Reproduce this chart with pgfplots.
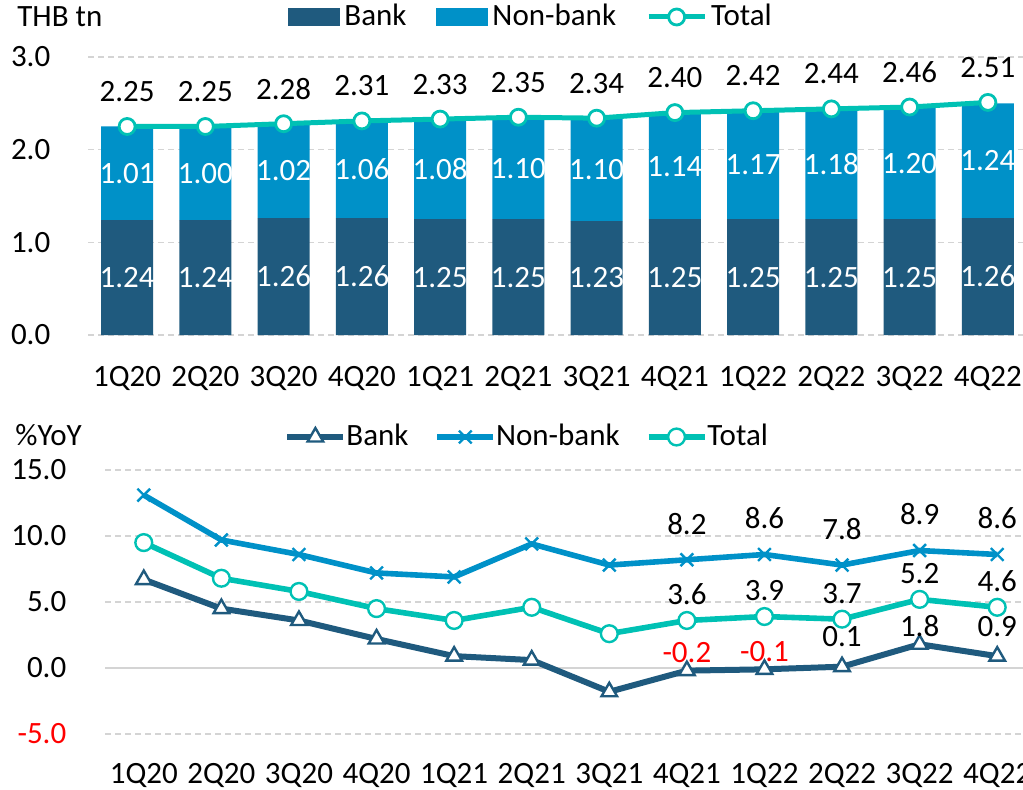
\documentclass[border=0pt]{standalone}
\usepackage{pgfplots}
\pgfplotsset{compat=1.18}
\usepackage{fontspec}
\setmainfont{Carlito}
\definecolor{bankc}{RGB}{31,90,126}
\definecolor{nbc}{RGB}{0,145,200}
\definecolor{totc}{RGB}{0,193,180}
\definecolor{gridc}{RGB}{212,212,212}
\newcommand{\fs}{\fontsize{15.5}{18}\selectfont}
\pgfplotsset{
  /pgf/number format/assume math mode=true,
  base/.style={
    anchor=south west, scale only axis,
    xmin=-0.5, xmax=11.5, enlargelimits=false, clip=false,
    axis line style={draw=none}, major tick length=0pt,
    xtick={0,...,11},
    xticklabels={1Q20,2Q20,3Q20,4Q20,1Q21,2Q21,3Q21,4Q21,1Q22,2Q22,3Q22,4Q22},
    tick label style={font=\fs, black},
    major grid style={gridc, dash pattern=on 3pt off 2pt, line width=0.7pt},
    legend style={draw=none, fill=none, font=\fs, legend columns=-1, inner sep=0pt,
      nodes={inner sep=0pt},
      /tikz/every even column/.append style={column sep=15pt}},
  },
  barleg/.style={legend image code/.code={\fill[##1] (0pt,-4.5pt) rectangle (26pt,4.5pt);}},
  lineleg/.style={legend image code/.code={\draw[##1, mark=none] (0pt,0pt) -- (28pt,0pt);\draw[##1] plot coordinates {(14pt,0pt)};}},
}
\begin{document}
\fs
\begin{tikzpicture}
\useasboundingbox (0,0) rectangle (511.5pt,394.5pt);
\clip (0,0) rectangle (511.5pt,394.5pt);
\node[anchor=west, font=\fs, inner sep=0pt] at (8.5pt,386pt) {THB tn};
\node[anchor=west, font=\fs, inner sep=0pt] at (7.5pt,177pt) {\%YoY};

% ---------- top: stacked bars ----------
\begin{axis}[base, at={(44pt,227pt)}, width=469.5pt, height=139pt,
  ymin=0, ymax=3, ybar stacked, bar width=26pt,
  ytick={0,1,2,3}, yticklabels={0.0,1.0,2.0,3.0},
  yticklabel style={xshift=-13.5pt}, xticklabel style={yshift=-10.2pt},
  ymajorgrids,
  legend style={at={(axis description cs:0,1)}, anchor=west, xshift=100pt, yshift=20pt,
    /tikz/every odd column/.append style={column sep=2pt}},
]
\addplot[fill=bankc, draw=none, barleg] coordinates {(0,1.24) (1,1.24) (2,1.26) (3,1.26) (4,1.25) (5,1.25) (6,1.23) (7,1.25) (8,1.25) (9,1.25) (10,1.25) (11,1.26)};
\addlegendentry{Bank}
\addplot[fill=nbc, draw=none, barleg] coordinates {(0,1.01) (1,1.00) (2,1.02) (3,1.06) (4,1.08) (5,1.10) (6,1.10) (7,1.14) (8,1.17) (9,1.18) (10,1.20) (11,1.24)};
\addlegendentry{Non-bank}
\addlegendimage{lineleg, totc, line width=2.5pt, mark=*, mark size=4pt, mark options={fill=white, draw=totc, line width=1.4pt}}
\addlegendentry{Total}
\end{axis}
\begin{axis}[base, at={(44pt,227pt)}, width=469.5pt, height=139pt,
  ymin=0, ymax=3, hide axis]
\addplot[draw=none, mark=none, nodes near coords, point meta=explicit symbolic,
  nodes near coords style={anchor=center, white, font=\fs}]
  coordinates {(0,0.62)[1.24] (1,0.62)[1.24] (2,0.63)[1.26] (3,0.63)[1.26] (4,0.625)[1.25] (5,0.625)[1.25] (6,0.615)[1.23] (7,0.625)[1.25] (8,0.625)[1.25] (9,0.625)[1.25] (10,0.625)[1.25] (11,0.63)[1.26]};
\addplot[draw=none, mark=none, nodes near coords, point meta=explicit symbolic,
  nodes near coords style={anchor=center, white, font=\fs}]
  coordinates {(0,1.745)[1.01] (1,1.74)[1.00] (2,1.77)[1.02] (3,1.79)[1.06] (4,1.79)[1.08] (5,1.80)[1.10] (6,1.78)[1.10] (7,1.82)[1.14] (8,1.835)[1.17] (9,1.84)[1.18] (10,1.85)[1.20] (11,1.88)[1.24]};
\addplot[totc, line width=2.5pt, mark=*, mark size=4pt, mark options={fill=white, draw=totc, line width=1.4pt},
  nodes near coords, point meta=y,
  nodes near coords style={anchor=center, yshift=17.5pt, black, font=\fs, /pgf/number format/.cd, fixed, fixed zerofill, precision=2}]
  coordinates {(0,2.25) (1,2.25) (2,2.28) (3,2.31) (4,2.33) (5,2.35) (6,2.34) (7,2.40) (8,2.42) (9,2.44) (10,2.46) (11,2.51)};
\end{axis}

% ---------- bottom: YoY lines ----------
\begin{axis}[base, at={(52.5pt,27.5pt)}, width=465.5pt, height=132pt,
  ymin=-5, ymax=15,
  ytick={-5,0,5,10,15}, yticklabels={\textcolor{red}{-5.0},0.0,5.0,10.0,15.0},
  yticklabel style={xshift=-14pt}, xticklabel style={yshift=-9.2pt},
  ymajorgrids,
  extra y ticks={0}, extra y tick labels={},
  extra y tick style={major grid style={gridc, solid, line width=1pt}},
  legend style={at={(axis description cs:0,1)}, anchor=west, xshift=89.5pt, yshift=16.5pt,
    /tikz/every even column/.append style={column sep=13pt}},
]
\addplot[bankc, line width=3pt, mark=triangle*, mark size=4.5pt, mark options={fill=white, draw=bankc, line width=1.2pt}, lineleg]
  coordinates {(0,6.7) (1,4.5) (2,3.6) (3,2.2) (4,0.9) (5,0.6) (6,-1.8) (7,-0.2) (8,-0.1) (9,0.1) (10,1.8) (11,0.9)};
\addlegendentry{Bank}
\addplot[nbc, line width=2.8pt, mark=x, mark size=4.5pt, mark options={draw=nbc, line width=1.2pt}, lineleg]
  coordinates {(0,13.1) (1,9.7) (2,8.6) (3,7.2) (4,6.9) (5,9.4) (6,7.8) (7,8.2) (8,8.6) (9,7.8) (10,8.9) (11,8.6)};
\addlegendentry{Non-bank}
\addplot[totc, line width=2.8pt, mark=*, mark size=4.2pt, mark options={fill=white, draw=totc, line width=1.2pt}, lineleg]
  coordinates {(0,9.5) (1,6.8) (2,5.8) (3,4.5) (4,3.6) (5,4.6) (6,2.6) (7,3.6) (8,3.9) (9,3.7) (10,5.2) (11,4.6)};
\addlegendentry{Total}
% data labels
\addplot[draw=none, mark=none, forget plot, nodes near coords, point meta=explicit symbolic,
  nodes near coords style={anchor=center, yshift=18pt, black, font=\fs}]
  coordinates {(7,8.2)[8.2] (8,8.6)[8.6] (9,7.8)[7.8] (10,8.9)[8.9] (11,8.6)[8.6]};
\addplot[draw=none, mark=none, forget plot, nodes near coords, point meta=explicit symbolic,
  nodes near coords style={anchor=center, yshift=13pt, black, font=\fs}]
  coordinates {(7,3.6)[3.6] (8,3.9)[3.9] (9,3.7)[3.7] (10,5.2)[5.2] (11,4.6)[4.6]};
\addplot[draw=none, mark=none, forget plot, nodes near coords, point meta=explicit symbolic,
  nodes near coords style={anchor=center, yshift=9pt, black, font=\fs}]
  coordinates {(7,-0.2)[\textcolor{red}{-0.2}] (8,-0.1)[\textcolor{red}{-0.1}] (10,1.8)[1.8]};
\addplot[draw=none, mark=none, forget plot, nodes near coords, point meta=explicit symbolic,
  nodes near coords style={anchor=center, yshift=15pt, black, font=\fs}]
  coordinates {(9,0.1)[0.1] (11,0.9)[0.9]};
\end{axis}
\end{tikzpicture}
\end{document}
